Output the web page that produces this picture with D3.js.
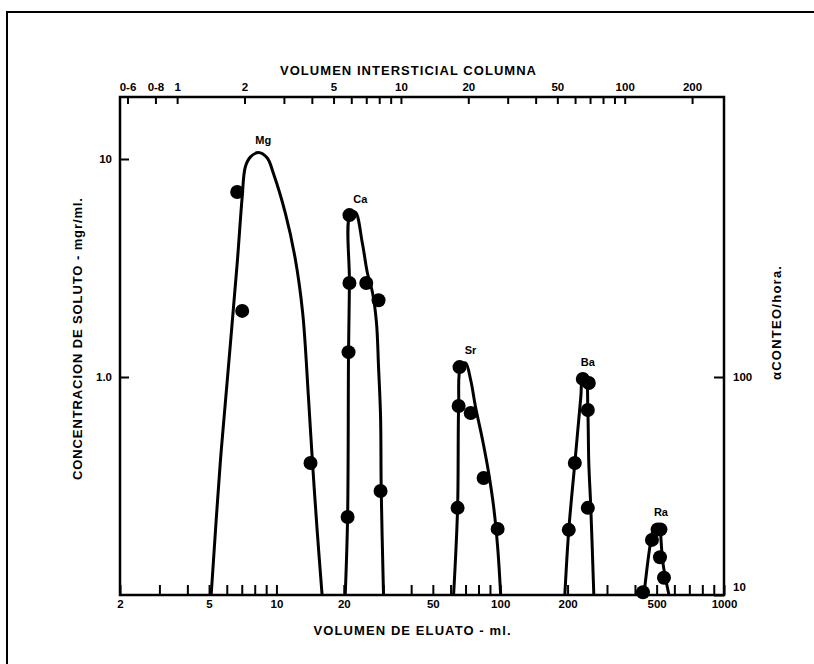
<!DOCTYPE html>
<html>
<head>
<meta charset="utf-8">
<script src="https://cdnjs.cloudflare.com/ajax/libs/d3/7.8.5/d3.min.js"></script>
<style>
  body { margin: 0; background: #fff; }
  svg text { font-family: "Liberation Sans", Arial, sans-serif; font-weight: bold; fill: #000; }
  .axis path { display: none; }
  .axis line { stroke: #000; stroke-width: 2; }
  .axis text { font-size: 11.5px; font-family: "Liberation Sans", Arial, sans-serif; }
  .curve { fill: none; stroke: #000; stroke-width: 3; }
  .dot { fill: #000; }
</style>
</head>
<body>
<svg width="814" height="664"></svg>
<script>
// eluate volume (ml) vs solute concentration (mg/ml)
var elements = ["Mg", "Ca", "Sr", "Ba", "Ra"];

var mgCurve = [[5.11,0.1],[5.61,0.403],[6.21,1.37],[6.68,3.33],[7.03,6.69],[7.26,9.19],[7.64,10.2],[8.3,10.7],[9.1,10.1],[9.68,8.63],[10.96,5.65],[12.1,3.55],[13.1,1.97],[13.9,0.81],[14.5,0.403],[15.2,0.199],[16.0,0.1]];
var caCurve = [[20.3,0.1],[20.8,0.228],[21.0,1.3],[21.2,2.7],[21.3,5.53],[22.5,5.71],[24.2,4.12],[25.5,3.0],[26.9,2.43],[28.0,1.77],[28.6,1.11],[29.2,0.656],[29.4,0.3],[30.1,0.1]];
var srCurve = [[61.9,0.1],[64.5,0.251],[65.2,0.736],[66.5,1.11],[70.0,1.16],[73.8,0.969],[77.6,0.728],[83.4,0.514],[88.8,0.363],[93.5,0.253],[97.4,0.166],[100.5,0.1]];
var baCurve = [[194.4,0.1],[202.5,0.199],[215.5,0.403],[229.2,0.81],[233.9,1.02],[241.3,1.0],[246.3,0.706],[248.8,0.403],[254.0,0.251],[262.0,0.1]];
var raCurve = [[438.8,0.1],[486.5,0.205],[496.5,0.209],[517.4,0.205],[522.8,0.18],[533.6,0.14],[567.6,0.1]];

var mgPoints = [[6.68,7.06],[7.03,2.01],[14.2,0.403]];
var caPoints = [[21.2,5.53],[21.2,2.7],[25.2,2.7],[28.6,2.25],[21.0,1.3],[29.2,0.3],[20.8,0.228]];
var srPoints = [[65.8,1.11],[65.2,0.736],[73.8,0.684],[84.3,0.344],[64.5,0.251],[97.4,0.201]];
var baPoints = [[233.9,0.98],[248.8,0.939],[246.3,0.706],[215.5,0.403],[246.3,0.251],[202.5,0.199]];
var raPoints = [[434.3,0.103],[476.5,0.179],[505,0.2],[520,0.2],[517.4,0.149],[539.2,0.12]];

var xLabels = [2, 5, 10, 20, 50, 100, 200, 500, 1000];
var topTicks = [0.6, 0.8, 1, 2, 3, 4, 5, 6, 7, 8, 9, 10, 20, 30, 40, 50, 60, 70, 80, 90, 100, 200];
var topLabels = [0.6, 0.8, 1, 2, 5, 10, 20, 50, 100, 200];
var yLeftTicks = [1, 10];
var yRightTicks = [10, 100];

var mlPerVolume = 3.6;   // ml of eluate per column interstitial volume
var countFactor = 100;   // alpha counts/hour per mg/ml

var curves = [mgCurve, caCurve, srCurve, baCurve, raCurve];
var points = [mgPoints, caPoints, srPoints, baPoints, raPoints];

var svg = d3.select("svg"),
    plotLeft = 120, plotRight = 724, plotTop = 97, plotBottom = 595;

// outer frame (open to the right and bottom, like the scan)
svg.append("path")
    .attr("d", "M7,664V12H814")
    .attr("fill", "none")
    .attr("stroke", "#000")
    .attr("stroke-width", 2);

var x = d3.scaleLog().domain([2, 1000]).range([plotLeft, plotRight]);
var xTop = d3.scaleLog().domain([2 / mlPerVolume, 1000 / mlPerVolume]).range([plotLeft, plotRight]);
var y = d3.scaleLog().domain([0.1, 19.25]).range([plotBottom, plotTop]);
var yRight = d3.scaleLog().domain([0.1 * countFactor, 19.25 * countFactor]).range([plotBottom, plotTop]);

svg.append("g")
    .attr("class", "axis")
    .attr("transform", "translate(0," + plotBottom + ")")
    .call(d3.axisBottom(x)
      .tickValues(x.ticks())
      .tickSizeInner(-10).tickSizeOuter(0).tickPadding(5)
      .tickFormat(function(d) { return xLabels.indexOf(Math.round(d)) >= 0 ? Math.round(d) : ""; }));

svg.append("g")
    .attr("class", "axis")
    .attr("transform", "translate(0," + plotTop + ")")
    .call(d3.axisTop(xTop)
      .tickValues(topTicks)
      .tickSizeInner(-7).tickSizeOuter(0).tickPadding(6)
      .tickFormat(function(d) { return topLabels.indexOf(d) >= 0 ? String(d).replace(".", "-") : ""; }));

svg.append("g")
    .attr("class", "axis")
    .attr("transform", "translate(" + plotLeft + ",0)")
    .call(d3.axisLeft(y)
      .tickValues(yLeftTicks)
      .tickSizeInner(-9).tickSizeOuter(0).tickPadding(8)
      .tickFormat(function(d) { return d === 1 ? "1.0" : d; }));

var rightAxis = svg.append("g")
    .attr("class", "axis")
    .attr("transform", "translate(" + plotRight + ",0)")
    .call(d3.axisRight(yRight)
      .tickValues(yRightTicks)
      .tickSizeInner(-10).tickSizeOuter(0).tickPadding(9));
rightAxis.selectAll(".tick text").filter(function(d) { return d === 10; }).attr("dy", "-0.35em");

// plot box
svg.append("rect")
    .attr("x", plotLeft).attr("y", plotTop)
    .attr("width", plotRight - plotLeft).attr("height", plotBottom - plotTop)
    .attr("fill", "none")
    .attr("stroke", "#000")
    .attr("stroke-width", 2.5);

svg.append("clipPath").attr("id", "plot")
  .append("rect")
    .attr("x", plotLeft).attr("y", plotTop)
    .attr("width", plotRight - plotLeft).attr("height", plotBottom - plotTop);

var line = d3.line()
    .x(function(d) { return x(d[0]); })
    .y(function(d) { return y(d[1]); })
    .curve(d3.curveCatmullRom.alpha(0.5));

svg.append("g").attr("clip-path", "url(#plot)")
  .selectAll("path")
  .data(curves)
  .enter().append("path")
    .attr("class", "curve")
    .attr("d", line);

svg.append("g")
  .selectAll("g")
  .data(points)
  .enter().append("g")
  .selectAll("circle")
  .data(function(d) { return d; })
  .enter().append("circle")
    .attr("class", "dot")
    .attr("cx", function(d) { return x(d[0]); })
    .attr("cy", function(d) { return y(d[1]); })
    .attr("r", 7);

// element names just above each peak
svg.append("g")
  .selectAll("text")
  .data(elements)
  .enter().append("text")
    .attr("text-anchor", "middle")
    .style("font-size", "11px")
    .attr("x", function(d, i) { var p = d3.greatest(curves[i], function(c) { return c[1]; }); return x(p[0]) + 5; })
    .attr("y", function(d, i) { var p = d3.greatest(curves[i], function(c) { return c[1]; }); return y(p[1]) - 9; })
    .text(function(d) { return d; });

svg.append("text")
    .attr("x", 408).attr("y", 75)
    .attr("text-anchor", "middle")
    .style("font-size", "13px")
    .attr("textLength", 256)
    .text("VOLUMEN INTERSTICIAL COLUMNA");

svg.append("text")
    .attr("x", 412).attr("y", 635)
    .attr("text-anchor", "middle")
    .style("font-size", "13px")
    .attr("textLength", 197)
    .text("VOLUMEN DE ELUATO - ml.");

svg.append("text")
    .attr("transform", "translate(82,339) rotate(-90)")
    .attr("text-anchor", "middle")
    .style("font-size", "13px")
    .attr("textLength", 282)
    .text("CONCENTRACION DE SOLUTO - mgr/ml.");

svg.append("text")
    .attr("transform", "translate(781,323) rotate(-90)")
    .attr("text-anchor", "middle")
    .style("font-size", "13px")
    .attr("textLength", 114)
    .text("αCONTEO/hora.");
</script>
</body>
</html>
